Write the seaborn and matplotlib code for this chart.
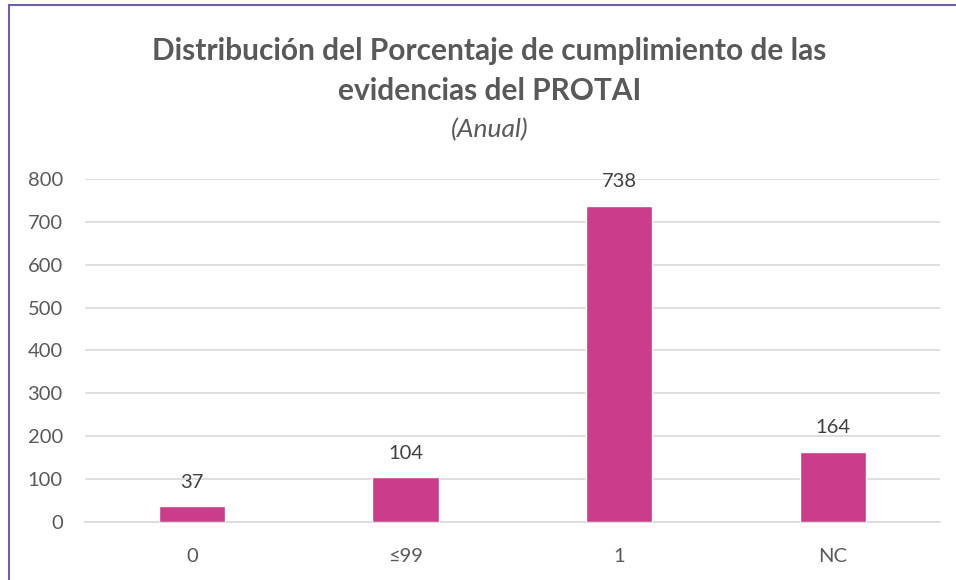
#!/usr/bin/env python3
"""Distribución del Porcentaje de cumplimiento de las evidencias del PROTAI (Anual)"""

import pandas as pd
import matplotlib.pyplot as plt
import seaborn as sns
from matplotlib.lines import Line2D

# Data
categories = ['0', '≤99', '1', 'NC']
counts = [37, 104, 738, 164]

sns.set_style("white")
plt.rcParams['font.family'] = ['Lato', 'DejaVu Sans']

text_color = '#595959'
bar_color = '#C93D8A'
grid_color = '#D9D9D9'
border_color = '#6F5FA6'

df = pd.DataFrame({'categoria': categories, 'cantidad': counts})

fig = plt.figure(figsize=(9.56, 5.8), dpi=100)
ax = fig.add_axes([0.089, 0.1, 0.894, 0.5914])

sns.barplot(data=df, x='categoria', y='cantidad', color=bar_color,
            width=0.31, saturation=1, ax=ax, zorder=3)

ax.set_ylim(0, 800)
ax.set_xlim(-0.5, 3.5)
ax.set_yticks(range(0, 801, 100))
ax.yaxis.grid(True, color=grid_color, linewidth=1.2, zorder=0)
ax.xaxis.grid(False)
for side in ['top', 'right', 'left']:
    ax.spines[side].set_visible(False)
ax.spines['bottom'].set_color(grid_color)
ax.spines['bottom'].set_linewidth(1.2)
ax.tick_params(axis='both', length=0, labelsize=14.5, colors=text_color)
ax.tick_params(axis='x', pad=19)
ax.tick_params(axis='y', pad=16)
ax.set_xlabel('')
ax.set_ylabel('')

# Value labels
for container in ax.containers:
    ax.bar_label(container, padding=11, fontsize=14.5, color='#404040')

# Title
fig.text(0.512, 0.912, 'Distribución del Porcentaje de cumplimiento de las',
         ha='center', va='center', fontsize=21.5, fontweight='bold', color=text_color)
fig.text(0.512, 0.843, 'evidencias del PROTAI',
         ha='center', va='center', fontsize=21.5, fontweight='bold', color=text_color)
fig.text(0.512, 0.777, '(Anual)', ha='center', va='center', fontsize=19,
         style='italic', color=text_color)

# Chart border (left and top edges visible)
fig.add_artist(Line2D([0.009, 0.009], [0, 0.991], transform=fig.transFigure,
                      color=border_color, linewidth=1.5))
fig.add_artist(Line2D([0.009, 1], [0.991, 0.991], transform=fig.transFigure,
                      color=border_color, linewidth=1.5))

plt.savefig('out.png', dpi=100)
plt.close()
